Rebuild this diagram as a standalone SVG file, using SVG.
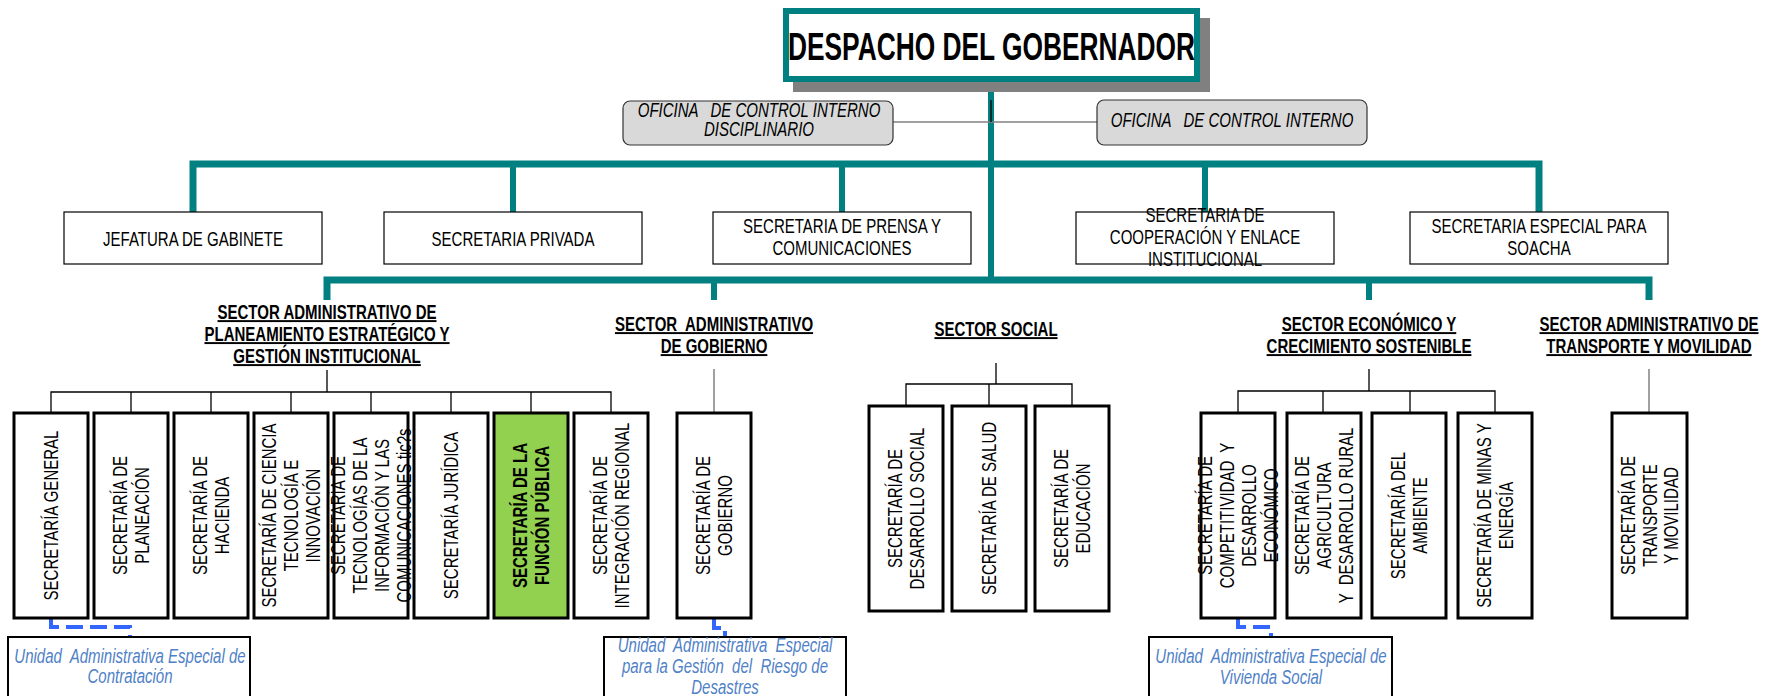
<svg xmlns="http://www.w3.org/2000/svg" width="1779" height="696" viewBox="0 0 1779 696">
<style>
.t{font-family:"Liberation Sans",Arial,sans-serif;font-size:19.5px;fill:#000;text-anchor:middle}
.b{font-weight:bold}
.i{font-style:italic}
.u{text-decoration:underline}
.bl{fill:#4f81c7}
.title{font-family:"Liberation Sans",Arial,sans-serif;font-size:39px;font-weight:bold;fill:#000}
.teal{stroke:#008080;stroke-width:7;fill:none}
.trunk{stroke:#008080;stroke-width:6;fill:none}
.thin{stroke:#000;stroke-width:1.3;fill:none}
.gray{stroke:#808080;stroke-width:1.5;fill:none}
.box{fill:#fff;stroke:#000;stroke-width:1.2}
.vbox{fill:#fff;stroke:#000;stroke-width:3}
.green{fill:#92d050}
.ofi{fill:#d9d9d9;stroke:#333;stroke-width:1.2}
.dash{stroke:#3366ff;stroke-width:4;fill:none;stroke-dasharray:17 7}
.ubox{fill:#fff;stroke:#000;stroke-width:2}
</style>

<g id="connectors">
  <path class="trunk" d="M991 82 V280"/>
  <path class="gray" d="M893 122 H1097"/>
  <path class="thin" d="M991 100 V122"/>
  <path class="teal" d="M193 212 V164 H1539 V212"/>
  <path class="trunk" d="M513 164 V212 M842 164 V212 M1205 164 V212"/>
  <path class="teal" d="M327 300 V280 H1649 V300"/>
  <path class="trunk" d="M714 280 V300 M1369 280 V300"/>
  <path class="thin" d="M327 370 V392 M51 413 V392 H611 V413 M131 392 V413 M211 392 V413 M291 392 V413 M371 392 V413 M451 392 V413 M531 392 V413"/>
  <path class="gray" d="M714 369 V413"/>
  <path class="thin" d="M996 363 V384 M906 406 V384 H1072 V406 M989 384 V406"/>
  <path class="thin" d="M1369 369 V391 M1238 413 V391 H1495 V413 M1323 391 V413 M1410 391 V413"/>
  <path class="gray" d="M1649 369 V413"/>
  <path class="dash" d="M51 618 V627 H130 V637"/>
  <path class="dash" d="M714 618 V628 H725 V637"/>
  <path class="dash" d="M1238 618 V627 H1271 V637"/>
</g>

<g id="despacho">
  <rect x="793" y="18" width="417" height="74" fill="#808080"/>
  <rect x="786" y="11" width="411" height="68" fill="#fff" stroke="#008080" stroke-width="6"/>
  <text class="title" x="788" y="60" textLength="407" lengthAdjust="spacingAndGlyphs">DESPACHO DEL GOBERNADOR</text>
</g>

<g id="oficina-disciplinario">
  <rect class="ofi" x="623" y="101" width="270" height="44" rx="7"/>
  <text class="t i" transform="translate(759,117) scale(0.77,1)" xml:space="preserve"><tspan x="0" y="0">OFICINA   DE CONTROL INTERNO</tspan><tspan x="0" y="19">DISCIPLINARIO</tspan></text>
</g>
<g id="oficina-control">
  <rect class="ofi" x="1097" y="100" width="270" height="45" rx="7"/>
  <text class="t i" transform="translate(1232,127) scale(0.77,1)" xml:space="preserve">OFICINA   DE CONTROL INTERNO</text>
</g>

<g id="jefatura">
  <rect class="box" x="64" y="212" width="258" height="52"/>
  <text class="t" transform="translate(193,246) scale(0.77,1)">JEFATURA DE GABINETE</text>
</g>
<g id="privada">
  <rect class="box" x="384" y="212" width="258" height="52"/>
  <text class="t" transform="translate(513,246) scale(0.77,1)">SECRETARIA PRIVADA</text>
</g>
<g id="prensa">
  <rect class="box" x="713" y="212" width="258" height="52"/>
  <text class="t" transform="translate(842,233) scale(0.77,1)"><tspan x="0" y="0">SECRETARIA DE PRENSA Y</tspan><tspan x="0" y="22">COMUNICACIONES</tspan></text>
</g>
<g id="cooperacion">
  <rect class="box" x="1076" y="212" width="258" height="52"/>
  <text class="t" transform="translate(1205,222) scale(0.77,1)"><tspan x="0" y="0">SECRETARIA DE</tspan><tspan x="0" y="22">COOPERACIÓN Y ENLACE</tspan><tspan x="0" y="44">INSTITUCIONAL</tspan></text>
</g>
<g id="soacha">
  <rect class="box" x="1410" y="212" width="258" height="52"/>
  <text class="t" transform="translate(1539,233) scale(0.77,1)"><tspan x="0" y="0">SECRETARIA ESPECIAL PARA</tspan><tspan x="0" y="22">SOACHA</tspan></text>
</g>

<g id="sector-planeamiento">
  <text class="t b u" transform="translate(327,319) scale(0.77,1)"><tspan x="0" y="0">SECTOR ADMINISTRATIVO DE</tspan><tspan x="0" y="22">PLANEAMIENTO ESTRATÉGICO Y</tspan><tspan x="0" y="44">GESTIÓN INSTITUCIONAL</tspan></text>
</g>
<g id="sector-gobierno">
  <text class="t b u" transform="translate(714,331) scale(0.77,1)" xml:space="preserve"><tspan x="0" y="0">SECTOR  ADMINISTRATIVO</tspan><tspan x="0" y="22">DE GOBIERNO</tspan></text>
</g>
<g id="sector-social">
  <text class="t b u" transform="translate(996,336) scale(0.77,1)">SECTOR SOCIAL</text>
</g>
<g id="sector-economico">
  <text class="t b u" transform="translate(1369,331) scale(0.77,1)"><tspan x="0" y="0">SECTOR ECONÓMICO Y</tspan><tspan x="0" y="22">CRECIMIENTO SOSTENIBLE</tspan></text>
</g>
<g id="sector-transporte">
  <text class="t b u" transform="translate(1649,331) scale(0.77,1)"><tspan x="0" y="0">SECTOR ADMINISTRATIVO DE</tspan><tspan x="0" y="22">TRANSPORTE Y MOVILIDAD</tspan></text>
</g>

<g id="sec-general">
  <rect class="vbox" x="14" y="413" width="74" height="205"/>
  <text class="t" transform="translate(51,515.5) rotate(-90) scale(0.77,1)"><tspan x="0" y="7">SECRETARÍA GENERAL</tspan></text>
</g>
<g id="sec-planeacion">
  <rect class="vbox" x="94" y="413" width="74" height="205"/>
  <text class="t" transform="translate(131,515.5) rotate(-90) scale(0.77,1)"><tspan x="0" y="-4">SECRETARÍA DE</tspan><tspan x="0" y="18">PLANEACIÓN</tspan></text>
</g>
<g id="sec-hacienda">
  <rect class="vbox" x="174" y="413" width="74" height="205"/>
  <text class="t" transform="translate(211,515.5) rotate(-90) scale(0.77,1)"><tspan x="0" y="-4">SECRETARÍA DE</tspan><tspan x="0" y="18">HACIENDA</tspan></text>
</g>
<g id="sec-ciencia">
  <rect class="vbox" x="254" y="413" width="74" height="205"/>
  <text class="t" transform="translate(291,515.5) rotate(-90) scale(0.77,1)"><tspan x="0" y="-15">SECRETARÍA DE CIENCIA</tspan><tspan x="0" y="7">TECNOLOGÍA E</tspan><tspan x="0" y="29">INNOVACIÓN</tspan></text>
</g>
<g id="sec-tic">
  <rect class="vbox" x="334" y="413" width="74" height="205"/>
  <text class="t" transform="translate(371,515.5) rotate(-90) scale(0.77,1)"><tspan x="0" y="-26">SECRETARÍA DE</tspan><tspan x="0" y="-4">TECNOLOGÍAS DE LA</tspan><tspan x="0" y="18">INFORMACIÓN Y LAS</tspan><tspan x="0" y="40">COMUNICACIONES tic?s</tspan></text>
</g>
<g id="sec-juridica">
  <rect class="vbox" x="414" y="413" width="74" height="205"/>
  <text class="t" transform="translate(451,515.5) rotate(-90) scale(0.77,1)"><tspan x="0" y="7">SECRETARÍA JURÍDICA</tspan></text>
</g>
<g id="sec-funcion-publica">
  <rect class="vbox green" x="494" y="413" width="74" height="205"/>
  <text class="t b" transform="translate(531,515.5) rotate(-90) scale(0.77,1)"><tspan x="0" y="-4">SECRETARÍA DE LA</tspan><tspan x="0" y="18">FUNCIÓN PÚBLICA</tspan></text>
</g>
<g id="sec-integracion">
  <rect class="vbox" x="574" y="413" width="74" height="205"/>
  <text class="t" transform="translate(611,515.5) rotate(-90) scale(0.77,1)"><tspan x="0" y="-4">SECRETARÍA DE</tspan><tspan x="0" y="18">INTEGRACIÓN REGIONAL</tspan></text>
</g>
<g id="sec-gobierno">
  <rect class="vbox" x="677" y="413" width="74" height="205"/>
  <text class="t" transform="translate(714,515.5) rotate(-90) scale(0.77,1)"><tspan x="0" y="-4">SECRETARÍA DE</tspan><tspan x="0" y="18">GOBIERNO</tspan></text>
</g>
<g id="sec-desarrollo-social">
  <rect class="vbox" x="869" y="406" width="74" height="205"/>
  <text class="t" transform="translate(906,508.5) rotate(-90) scale(0.77,1)"><tspan x="0" y="-4">SECRETARÍA DE</tspan><tspan x="0" y="18">DESARROLLO SOCIAL</tspan></text>
</g>
<g id="sec-salud">
  <rect class="vbox" x="952" y="406" width="74" height="205"/>
  <text class="t" transform="translate(989,508.5) rotate(-90) scale(0.77,1)"><tspan x="0" y="7">SECRETARÍA DE SALUD</tspan></text>
</g>
<g id="sec-educacion">
  <rect class="vbox" x="1035" y="406" width="74" height="205"/>
  <text class="t" transform="translate(1072,508.5) rotate(-90) scale(0.77,1)"><tspan x="0" y="-4">SECRETARÍA DE</tspan><tspan x="0" y="18">EDUCACIÓN</tspan></text>
</g>
<g id="sec-competitividad">
  <rect class="vbox" x="1201" y="413" width="74" height="205"/>
  <text class="t" transform="translate(1238,515.5) rotate(-90) scale(0.77,1)" xml:space="preserve"><tspan x="0" y="-26">SECRETARÍA DE</tspan><tspan x="0" y="-4">COMPETITIVIDAD  Y</tspan><tspan x="0" y="18">DESARROLLO</tspan><tspan x="0" y="40">ECONÓMICO</tspan></text>
</g>
<g id="sec-agricultura">
  <rect class="vbox" x="1287" y="413" width="74" height="205"/>
  <text class="t" transform="translate(1324,515.5) rotate(-90) scale(0.77,1)" xml:space="preserve"><tspan x="0" y="-15">SECRETARÍA DE</tspan><tspan x="0" y="7">AGRICULTURA</tspan><tspan x="0" y="29">Y  DESARROLLO RURAL</tspan></text>
</g>
<g id="sec-ambiente">
  <rect class="vbox" x="1372" y="413" width="74" height="205"/>
  <text class="t" transform="translate(1409,515.5) rotate(-90) scale(0.77,1)"><tspan x="0" y="-4">SECRETARÍA DEL</tspan><tspan x="0" y="18">AMBIENTE</tspan></text>
</g>
<g id="sec-minas">
  <rect class="vbox" x="1458" y="413" width="74" height="205"/>
  <text class="t" transform="translate(1495,515.5) rotate(-90) scale(0.77,1)"><tspan x="0" y="-4">SECRETARÍA DE MINAS Y</tspan><tspan x="0" y="18">ENERGÍA</tspan></text>
</g>
<g id="sec-transporte">
  <rect class="vbox" x="1612" y="413" width="75" height="205"/>
  <text class="t" transform="translate(1649.5,515.5) rotate(-90) scale(0.77,1)"><tspan x="0" y="-15">SECRETARÍA DE</tspan><tspan x="0" y="7">TRANSPORTE</tspan><tspan x="0" y="29">Y MOVILIDAD</tspan></text>
</g>

<g id="uae-contratacion">
  <rect class="ubox" x="8" y="637" width="242" height="80"/>
  <text class="t i bl" transform="translate(130,663) scale(0.77,1)" xml:space="preserve"><tspan x="0" y="0">Unidad  Administrativa Especial de</tspan><tspan x="0" y="20">Contratación</tspan></text>
</g>
<g id="uae-riesgo">
  <rect class="ubox" x="604" y="637" width="242" height="80"/>
  <text class="t i bl" transform="translate(725,652) scale(0.77,1)" xml:space="preserve"><tspan x="0" y="0">Unidad  Administrativa  Especial</tspan><tspan x="0" y="21">para la Gestión  del  Riesgo de</tspan><tspan x="0" y="42">Desastres</tspan></text>
</g>
<g id="uae-vivienda">
  <rect class="ubox" x="1149" y="637" width="243" height="80"/>
  <text class="t i bl" transform="translate(1271,663) scale(0.77,1)" xml:space="preserve"><tspan x="0" y="0">Unidad  Administrativa Especial de</tspan><tspan x="0" y="21">Vivienda Social</tspan></text>
</g>
</svg>
